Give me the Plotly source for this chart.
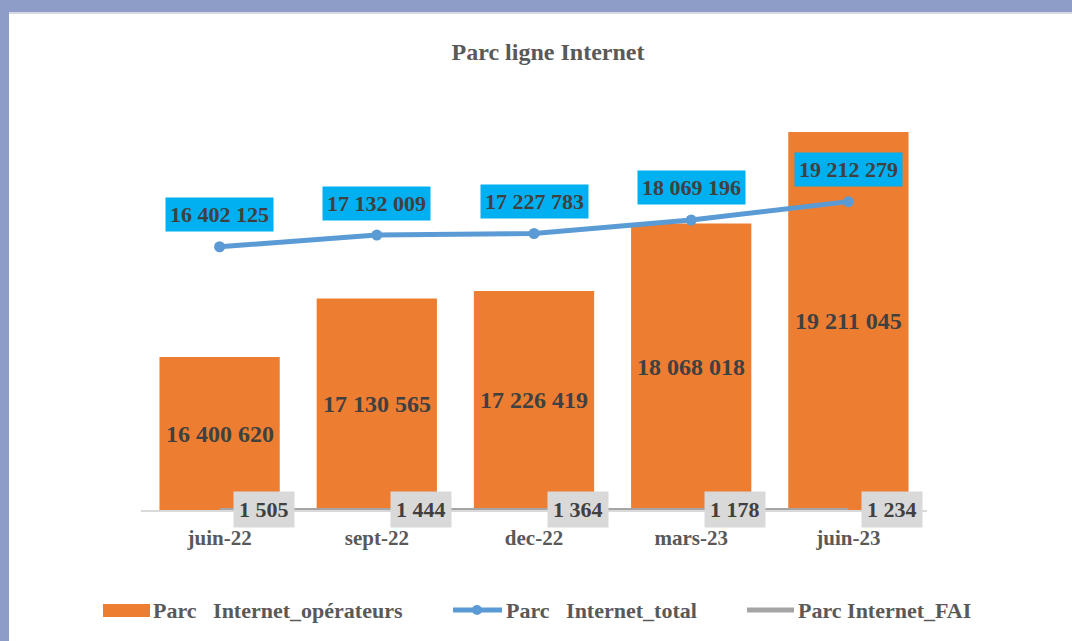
import plotly.graph_objects as go

categories = ["juin-22", "sept-22", "dec-22", "mars-23", "juin-23"]
operateurs = [16400620, 17130565, 17226419, 18068018, 19211045]
total = [16402125, 17132009, 17227783, 18069196, 19212279]
fai = [1505, 1444, 1364, 1178, 1234]
legend_names = ["Parc\u00a0\u00a0\u00a0Internet_opérateurs", "Parc\u00a0\u00a0\u00a0Internet_total", "Parc Internet_FAI"]

def fmt(v):
    return f"{v:,}".replace(",", "\u00a0")

W, H = 1072, 641
L, R, T, B = 141, 145, 110, 131
PW, PH = W - L - R, H - T - B

FONT = "Liberation Serif"
GRAY = "#595959"
DARK = "#404040"
ORANGE = "#ED7D31"
BLUE = "#5B9BD5"
LGRAY = "#A5A5A5"

base = 14.49e6
top = base + PH / 80.06e-6

fig = go.Figure()
fig.add_trace(go.Bar(
    x=categories, y=operateurs, name=legend_names[0],
    marker=dict(color=ORANGE, line=dict(width=0)), yaxis="y", showlegend=False,
))
fig.add_trace(go.Scatter(
    x=categories, y=total, name=legend_names[1],
    mode="lines+markers", line=dict(color=BLUE, width=5),
    marker=dict(size=11, color=BLUE), yaxis="y2", showlegend=False,
))
fig.add_trace(go.Scatter(
    x=categories, y=fai, name=legend_names[2],
    mode="lines", line=dict(color=LGRAY, width=4), yaxis="y2", showlegend=False,
))

annotations = []
# bar value labels, centred on the visible part of each bar
for c, v in zip(categories, operateurs):
    annotations.append(dict(
        x=c, y=(base + v) / 2, xref="x", yref="y", text=fmt(v), showarrow=False,
        font=dict(family=FONT, size=24, color=DARK, weight="bold"),
    ))
for c, v in zip(categories, total):
    annotations.append(dict(
        x=c, y=v, xref="x", yref="y2", text=fmt(v), showarrow=False,
        yshift=32, bgcolor="#00B0F0", borderpad=4,
        font=dict(family=FONT, size=22, color=DARK, weight="bold"),
    ))
for c, v in zip(categories, fai):
    annotations.append(dict(
        x=c, y=v, xref="x", yref="y2", text=fmt(v), showarrow=False,
        xshift=44, bgcolor="#D9D9D9", borderpad=5,
        font=dict(family=FONT, size=22, color=DARK, weight="bold"),
    ))

def px_x(p):
    return (p - L) / PW

def px_y(p):
    return (H - B - p) / PH

shapes = [
    dict(type="rect", xref="paper", yref="paper", x0=px_x(0), x1=px_x(W), y0=px_y(12), y1=px_y(0),
         fillcolor="#8D9DC8", line=dict(width=0), layer="below"),
    dict(type="rect", xref="paper", yref="paper", x0=px_x(9), x1=px_x(W), y0=px_y(14), y1=px_y(12),
         fillcolor="#D6D9DF", line=dict(width=0), layer="below"),
    dict(type="rect", xref="paper", yref="paper", x0=px_x(0), x1=px_x(9), y0=px_y(H), y1=px_y(12),
         fillcolor="#8D9DC8", line=dict(width=0), layer="below"),
]

# custom legend
LY = 610
shapes += [
    dict(type="rect", xref="paper", yref="paper", x0=px_x(103), x1=px_x(150), y0=px_y(617), y1=px_y(604),
         fillcolor=ORANGE, line=dict(width=0)),
    dict(type="line", xref="paper", yref="paper", x0=px_x(453), x1=px_x(502), y0=px_y(LY), y1=px_y(LY),
         line=dict(color=BLUE, width=5)),
    dict(type="circle", xref="paper", yref="paper", x0=px_x(472), x1=px_x(482), y0=px_y(LY + 5), y1=px_y(LY - 5),
         fillcolor=BLUE, line=dict(width=0)),
    dict(type="line", xref="paper", yref="paper", x0=px_x(747), x1=px_x(794), y0=px_y(LY), y1=px_y(LY),
         line=dict(color=LGRAY, width=5)),
]
for name, xs in zip(legend_names, [152, 505, 797]):
    annotations.append(dict(
        x=px_x(xs), y=px_y(LY), xref="paper", yref="paper", text=name, showarrow=False,
        xanchor="left", yanchor="middle", borderpad=0,
        font=dict(family=FONT, size=22, color=GRAY, weight="bold"),
    ))

fig.update_layout(
    width=W, height=H,
    margin=dict(l=L, r=R, t=T, b=B),
    paper_bgcolor="white", plot_bgcolor="white",
    title=dict(text="Parc ligne Internet", x=548 / W, xanchor="center", y=1 - 52 / H, yanchor="middle",
               font=dict(family=FONT, size=24, color=GRAY, weight="bold")),
    bargap=0.235,
    xaxis=dict(showline=True, linecolor="#D9D9D9", linewidth=2, showgrid=False, ticks="",
               tickfont=dict(family=FONT, size=21, color=GRAY, weight="bold"),
               ticklabelstandoff=8),
    yaxis=dict(range=[base, top], visible=False, showgrid=False),
    yaxis2=dict(range=[0, PH / 16.05e-6], overlaying="y", visible=False, showgrid=False),
    annotations=annotations,
    shapes=shapes,
    showlegend=False,
)

fig.write_html("out.html", config={"displayModeBar": False},
               post_script="document.body.style.margin='0px';document.body.style.padding='0px';")
